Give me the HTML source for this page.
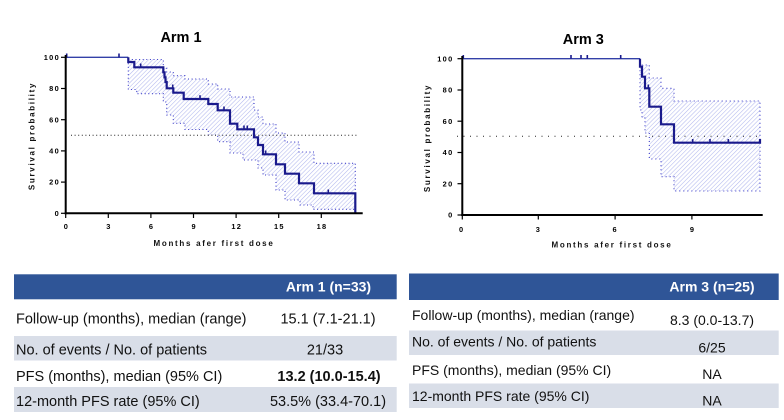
<!DOCTYPE html>
<html><head><meta charset="utf-8">
<style>
html,body{margin:0;padding:0;background:#fff;}
svg{display:block;}
text{font-family:"Liberation Sans",Arial,sans-serif;}
.tk{font-size:7.4px;font-weight:bold;letter-spacing:1.3px;fill:#000;}
.al{font-size:8px;font-weight:bold;letter-spacing:1.7px;fill:#111;}
.ti{font-size:14.5px;font-weight:bold;fill:#000;}
.tl{font-size:14.5px;fill:#111;}
.tr{font-size:14px;fill:#111;}
.hd{font-size:14px;font-weight:bold;fill:#fff;}
</style></head>
<body>
<svg width="784" height="420" viewBox="0 0 784 420" xmlns="http://www.w3.org/2000/svg">
<defs>
<pattern id="h" width="3" height="3" patternUnits="userSpaceOnUse" patternTransform="rotate(45)">
<rect width="3" height="3" fill="#fff"/>
<line x1="0" y1="0" x2="0" y2="3" stroke="#b2b8ee" stroke-width="1.1"/>
</pattern>
</defs>
<rect width="784" height="420" fill="#fff"/>

<!-- ===== ARM 1 ===== -->
<text class="ti" x="181" y="42" text-anchor="middle">Arm 1</text>
<path d="M128.3,59.5 H163.3 V68 H166.7 V72 H173.3 V75.7 H185 V79 H208.3 V84 H217.7 V89 H230 V97 H254 V110 H258 V117 H263 V124 H276 V133 H285 V142 H299 V152 H314 V163.3 H355.3 V209.3 H313 V205 H300 V200 H285 V190 H276 V175 H263 V168 H258 V160 H243 V153 H230 V141.7 H217.7 V135 H208.3 V129.5 H185 V123.3 H173.3 V115 H166.7 V102 H163.3 V93.7 H136.7 V89.5 H128.3 Z" fill="url(#h)" stroke="#3a3ac8" stroke-width="1.1" stroke-dasharray="1 2.6"/>
<line x1="71" y1="135.3" x2="358" y2="135.3" stroke="#222" stroke-width="1" stroke-dasharray="1 2.6"/>
<line x1="65.7" y1="57.3" x2="128.3" y2="57.3" stroke="#3340a8" stroke-width="1.3"/>
<path d="M128.3,57.3 V62 H134.3 V67.3 H163.3 V72.3 H164.5 V77.3 H165.5 V82 H166.7 V88.3 H173.3 V92.7 H183.7 V99 H208.3 V104 H217.7 V110.3 H230 V123.7 H237.3 V129.3 H254 V137.3 H258 V145 H263 V154.3 H276 V164.3 H285 V173.7 H299 V183.3 H314 V193.3 H355.3 V213.3" fill="none" stroke="#1a1a8c" stroke-width="2.2"/>
<g stroke="#1a1a8c" stroke-width="1.6">
<line x1="66.7" y1="53.5" x2="66.7" y2="57.3"/>
<line x1="119" y1="53.5" x2="119" y2="57.3"/>
<line x1="140.7" y1="63.5" x2="140.7" y2="67.3"/>
<line x1="172.7" y1="84.5" x2="172.7" y2="88.3"/>
<line x1="200" y1="95.2" x2="200" y2="99"/>
<line x1="224" y1="106.5" x2="224" y2="110.3"/>
<line x1="244" y1="125.5" x2="244" y2="129.3"/>
<line x1="247.3" y1="125.5" x2="247.3" y2="129.3"/>
<line x1="265.7" y1="150.5" x2="265.7" y2="154.3"/>
<line x1="328.3" y1="189.5" x2="328.3" y2="193.3"/>
</g>
<g stroke="#000" stroke-width="2">
<line x1="65.7" y1="55" x2="65.7" y2="214.3"/>
<line x1="64.7" y1="213.3" x2="362.7" y2="213.3"/>
</g>
<g stroke="#000" stroke-width="1.2">
<line x1="61" y1="213.3" x2="65" y2="213.3"/><line x1="61" y1="182.1" x2="65" y2="182.1"/>
<line x1="61" y1="150.9" x2="65" y2="150.9"/><line x1="61" y1="119.7" x2="65" y2="119.7"/>
<line x1="61" y1="88.5" x2="65" y2="88.5"/><line x1="61" y1="57.3" x2="65" y2="57.3"/>
<line x1="65.7" y1="214" x2="65.7" y2="218"/><line x1="108.3" y1="214" x2="108.3" y2="218"/>
<line x1="150.9" y1="214" x2="150.9" y2="218"/><line x1="193.5" y1="214" x2="193.5" y2="218"/>
<line x1="236.1" y1="214" x2="236.1" y2="218"/><line x1="278.7" y1="214" x2="278.7" y2="218"/>
<line x1="321.3" y1="214" x2="321.3" y2="218"/>
</g>
<g class="tk" text-anchor="end">
<text x="60" y="215.9">0</text><text x="60" y="184.7">20</text><text x="60" y="153.5">40</text>
<text x="60" y="122.3">60</text><text x="60" y="91.1">80</text><text x="60" y="59.9">100</text>
</g>
<g class="tk" text-anchor="middle">
<text x="66.4" y="229">0</text><text x="109" y="229">3</text><text x="151.6" y="229">6</text>
<text x="194.2" y="229">9</text><text x="236.8" y="229">12</text><text x="279.4" y="229">15</text>
<text x="322" y="229">18</text>
</g>
<text class="al" x="214" y="246" text-anchor="middle">Months afer first dose</text>
<text class="al" transform="translate(34.5,136) rotate(-90)" text-anchor="middle">Survival probability</text>

<!-- ===== ARM 3 ===== -->
<text class="ti" x="583.3" y="44" text-anchor="middle">Arm 3</text>
<path d="M640,58.7 V65 H649.3 V78 H661 V88.3 H674 V101 H760 V191 H674 V176.7 H661 V159 H649.3 V133 H645 V118 H642 V110 H640 Z" fill="url(#h)" stroke="#3a3ac8" stroke-width="1.1" stroke-dasharray="1 3"/>
<line x1="457" y1="136.3" x2="762" y2="136.3" stroke="#222" stroke-width="1" stroke-dasharray="1 5.5"/>
<line x1="462.3" y1="58.7" x2="640" y2="58.7" stroke="#3340a8" stroke-width="1.3"/>
<path d="M640,58.7 V66.7 H642 V76.7 H645 V88.3 H649.3 V106.7 H661 V124.3 H674 V142.7 H760 V139" fill="none" stroke="#1a1a8c" stroke-width="2.2"/>
<g stroke="#1a1a8c" stroke-width="1.6">
<line x1="463.3" y1="55" x2="463.3" y2="58.7"/>
<line x1="571" y1="55" x2="571" y2="58.7"/>
<line x1="581" y1="55" x2="581" y2="58.7"/>
<line x1="587.3" y1="55" x2="587.3" y2="58.7"/>
<line x1="620.7" y1="55" x2="620.7" y2="58.7"/>
<line x1="648.3" y1="84.5" x2="648.3" y2="88.3"/>
<line x1="692.7" y1="139" x2="692.7" y2="142.7"/>
<line x1="710" y1="139" x2="710" y2="142.7"/>
<line x1="728.3" y1="139" x2="728.3" y2="142.7"/>
</g>
<g stroke="#000" stroke-width="2">
<line x1="462.3" y1="56" x2="462.3" y2="216"/>
<line x1="461.3" y1="215" x2="762.7" y2="215"/>
</g>
<g stroke="#000" stroke-width="1.2">
<line x1="457.5" y1="215" x2="461.5" y2="215"/><line x1="457.5" y1="183.7" x2="461.5" y2="183.7"/>
<line x1="457.5" y1="152.5" x2="461.5" y2="152.5"/><line x1="457.5" y1="121.2" x2="461.5" y2="121.2"/>
<line x1="457.5" y1="90" x2="461.5" y2="90"/><line x1="457.5" y1="58.7" x2="461.5" y2="58.7"/>
<line x1="462.3" y1="215.5" x2="462.3" y2="219.5"/><line x1="538.3" y1="215.5" x2="538.3" y2="219.5"/>
<line x1="615.1" y1="215.5" x2="615.1" y2="219.5"/><line x1="691.9" y1="215.5" x2="691.9" y2="219.5"/>
</g>
<g class="tk" text-anchor="end">
<text x="453.5" y="217.6">0</text><text x="453.5" y="186.3">20</text><text x="453.5" y="155.1">40</text>
<text x="453.5" y="123.8">60</text><text x="453.5" y="92.6">80</text><text x="453.5" y="61.3">100</text>
</g>
<g class="tk" text-anchor="middle">
<text x="461.7" y="231.8">0</text><text x="538.4" y="231.8">3</text><text x="615.2" y="231.8">6</text>
<text x="692.6" y="231.8">9</text>
</g>
<text class="al" x="612" y="247.5" text-anchor="middle">Months afer first dose</text>
<text class="al" transform="translate(430,138) rotate(-90)" text-anchor="middle">Survival probability</text>

<!-- ===== LEFT TABLE ===== -->
<rect x="14" y="274.3" width="382.7" height="25" fill="#2f5597"/>
<rect x="14" y="336" width="382.7" height="24.5" fill="#d9dee8"/>
<rect x="14" y="387" width="382.7" height="25" fill="#d9dee8"/>
<text class="hd" x="328.5" y="291.7" text-anchor="middle">Arm 1 (n=33)</text>
<text class="tl" x="16" y="323.5">Follow-up (months), median (range)</text>
<text class="tl" x="16" y="354.5">No. of events / No. of patients</text>
<text class="tl" x="16" y="381.2">PFS (months), median (95% CI)</text>
<text class="tl" x="16" y="406.2">12-month PFS rate (95% CI)</text>
<g class="tl" text-anchor="middle">
<text x="328" y="323.5">15.1 (7.1-21.1)</text>
<text x="325" y="354.5">21/33</text>
<text x="329" y="381.2" font-weight="bold">13.2 (10.0-15.4)</text>
<text x="328" y="406.2">53.5% (33.4-70.1)</text>
</g>

<!-- ===== RIGHT TABLE ===== -->
<rect x="409" y="273.5" width="369.7" height="26.5" fill="#2f5597"/>
<rect x="409" y="330.5" width="369.7" height="24.5" fill="#d9dee8"/>
<rect x="409" y="383.5" width="369.7" height="24.5" fill="#d9dee8"/>
<text class="hd" x="712" y="291.7" text-anchor="middle">Arm 3 (n=25)</text>
<text class="tr" x="412" y="320">Follow-up (months), median (range)</text>
<text class="tr" x="412" y="346.7">No. of events / No. of patients</text>
<text class="tr" x="412" y="375">PFS (months), median (95% CI)</text>
<text class="tr" x="412" y="401">12-month PFS rate (95% CI)</text>
<g class="tr" text-anchor="middle">
<text x="712" y="325">8.3 (0.0-13.7)</text>
<text x="712" y="352.3">6/25</text>
<text x="712" y="379">NA</text>
<text x="712" y="405.7">NA</text>
</g>
</svg>
</body></html>
